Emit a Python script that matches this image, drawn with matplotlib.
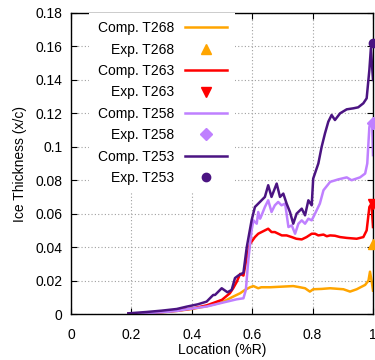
import matplotlib
matplotlib.use("Agg")
import matplotlib.pyplot as plt
from matplotlib.ticker import FuncFormatter

plt.rcParams['font.family'] = ['Liberation Sans', 'DejaVu Sans']
plt.rcParams['font.size'] = 10

# -----------------------------
# Data
# -----------------------------
x_t268 = [0.19, 0.25, 0.3, 0.35, 0.4, 0.45, 0.5, 0.537, 0.56, 0.576, 0.593, 0.604,
          0.62, 0.63, 0.66, 0.692, 0.736, 0.758, 0.775, 0.791, 0.802, 0.83, 0.858,
          0.902, 0.924, 0.946, 0.974, 0.985, 0.99, 0.997, 1.0]
y_t268 = [0.0002, 0.0006, 0.001, 0.0018, 0.003, 0.0047, 0.007, 0.0104, 0.0124, 0.0144,
          0.016, 0.0167, 0.0154, 0.016, 0.016, 0.0163, 0.0167, 0.016, 0.0154, 0.0134,
          0.0148, 0.015, 0.0154, 0.0148, 0.0134, 0.0148, 0.0174, 0.020, 0.0253, 0.018, 0.014]

x_t263 = [0.19, 0.25, 0.3, 0.35, 0.4, 0.45, 0.5, 0.526, 0.537, 0.549, 0.56, 0.571, 0.582,
          0.593, 0.609, 0.62, 0.642, 0.653, 0.664, 0.675, 0.698, 0.714, 0.731, 0.746,
          0.764, 0.78, 0.797, 0.808, 0.819, 0.836, 0.847, 0.858, 0.874, 0.891, 0.913,
          0.946, 0.968, 0.979, 0.988, 0.995, 1.0]
y_t263 = [0.0002, 0.0006, 0.0012, 0.002, 0.0032, 0.0052, 0.0085, 0.0124, 0.0154, 0.0193,
          0.024, 0.023, 0.034, 0.042, 0.046, 0.048, 0.050, 0.051, 0.049, 0.049, 0.047,
          0.047, 0.046, 0.045, 0.0446, 0.046, 0.048, 0.048, 0.047, 0.0475, 0.0465, 0.047,
          0.0468, 0.046, 0.0455, 0.045, 0.046, 0.050, 0.064, 0.066, 0.052]

x_t258 = [0.19, 0.25, 0.3, 0.35, 0.383, 0.45, 0.493, 0.549, 0.571, 0.579, 0.587, 0.593,
          0.598, 0.604, 0.615, 0.62, 0.626, 0.631, 0.642, 0.653, 0.664, 0.675, 0.686,
          0.697, 0.709, 0.72, 0.731, 0.742, 0.753, 0.764, 0.775, 0.786, 0.797, 0.808,
          0.824, 0.836, 0.858, 0.885, 0.913, 0.929, 0.957, 0.974, 0.981, 0.988, 0.997, 1.0]
y_t258 = [0.0001, 0.0005, 0.001, 0.0018, 0.0028, 0.0045, 0.0064, 0.0088, 0.0094, 0.0144,
          0.032, 0.042, 0.050, 0.056, 0.054, 0.061, 0.057, 0.059, 0.064, 0.068, 0.061,
          0.065, 0.067, 0.065, 0.066, 0.052, 0.053, 0.048, 0.054, 0.056, 0.054, 0.057,
          0.056, 0.060, 0.066, 0.074, 0.079, 0.0805, 0.0817, 0.080, 0.0817, 0.084, 0.090,
          0.112, 0.114, 0.095]

x_t253 = [0.19, 0.25, 0.3, 0.35, 0.383, 0.42, 0.449, 0.471, 0.477, 0.499, 0.518, 0.532,
          0.543, 0.554, 0.571, 0.582, 0.598, 0.609, 0.62, 0.631, 0.642, 0.653, 0.664,
          0.681, 0.692, 0.703, 0.714, 0.725, 0.736, 0.747, 0.764, 0.775, 0.786, 0.797,
          0.802, 0.819, 0.83, 0.841, 0.852, 0.863, 0.874, 0.891, 0.913, 0.935, 0.951,
          0.968, 0.979, 0.988, 0.993, 1.0]
y_t253 = [0.0004, 0.0012, 0.002, 0.003, 0.0044, 0.0058, 0.0074, 0.0114, 0.0114, 0.0154,
          0.013, 0.0144, 0.0215, 0.023, 0.0247, 0.040, 0.056, 0.064, 0.066, 0.068, 0.070,
          0.077, 0.070, 0.078, 0.070, 0.072, 0.066, 0.061, 0.054, 0.060, 0.063, 0.059,
          0.068, 0.065, 0.081, 0.090, 0.100, 0.108, 0.115, 0.119, 0.116, 0.120, 0.1224,
          0.123, 0.1236, 0.126, 0.129, 0.146, 0.159, 0.14]

exp_x = 1.0
exp_t268 = 0.042
exp_t263 = 0.066
exp_t258 = 0.114
exp_t253 = 0.162

# -----------------------------
# Plot
# -----------------------------
fig = plt.figure(figsize=(3.75, 3.6), dpi=100)
ax = fig.add_axes([71 / 375, 46 / 360, 302 / 375, 301 / 360])

c268 = '#ffa500'
c263 = '#ff0000'
c258 = '#bf80ff'
c253 = '#4b1482'
lw = 1.8

h1, = ax.plot(x_t268, y_t268, color=c268, lw=lw, label='Comp. T268')
h2, = ax.plot([exp_x], [exp_t268], ls='none', marker='^', ms=7, color=c268,
              clip_on=False, zorder=5, label='Exp. T268')
h3, = ax.plot(x_t263, y_t263, color=c263, lw=lw, label='Comp. T263')
h4, = ax.plot([exp_x], [exp_t263], ls='none', marker='v', ms=7, color=c263,
              clip_on=False, zorder=5, label='Exp. T263')
h5, = ax.plot(x_t258, y_t258, color=c258, lw=lw, label='Comp. T258')
h6, = ax.plot([exp_x], [exp_t258], ls='none', marker='D', ms=6, color=c258,
              clip_on=False, zorder=5, label='Exp. T258')
h7, = ax.plot(x_t253, y_t253, color=c253, lw=lw, label='Comp. T253')
h8, = ax.plot([exp_x], [exp_t253], ls='none', marker='o', ms=6, color=c253,
              clip_on=False, zorder=5, label='Exp. T253')

ax.set_xlim(0, 1)
ax.set_ylim(0, 0.18)
ax.set_xticks([0, 0.2, 0.4, 0.6, 0.8, 1])
ax.set_yticks([0, 0.02, 0.04, 0.06, 0.08, 0.1, 0.12, 0.14, 0.16, 0.18])
fmt = FuncFormatter(lambda v, p: '%g' % round(v, 4))
ax.xaxis.set_major_formatter(fmt)
ax.yaxis.set_major_formatter(fmt)
ax.tick_params(direction='in', length=4, width=0.8, top=True, right=True)
ax.tick_params(axis='x', pad=10)
ax.tick_params(axis='y', pad=6)

ax.grid(True, color='#a0a0a0', lw=0.8, ls=(0, (1, 2)))
ax.set_axisbelow(True)
for s in ax.spines.values():
    s.set_linewidth(1.0)

ax.set_xlabel('Location (%R)', labelpad=1)
ax.set_ylabel('Ice Thickness (x/c)', labelpad=6)

leg = ax.legend(handles=[h1, h2, h3, h4, h5, h6, h7, h8], loc='upper right',
                bbox_to_anchor=((235 - 71) / 302, 1.0), borderaxespad=0.0,
                markerfirst=False, frameon=True, fancybox=False, framealpha=1.0,
                edgecolor='none', handlelength=3.0, handletextpad=0.8,
                labelspacing=0.53, borderpad=0.6)
leg.get_frame().set_facecolor('white')
leg.set_zorder(4)

fig.savefig('out.png', dpi=100)
